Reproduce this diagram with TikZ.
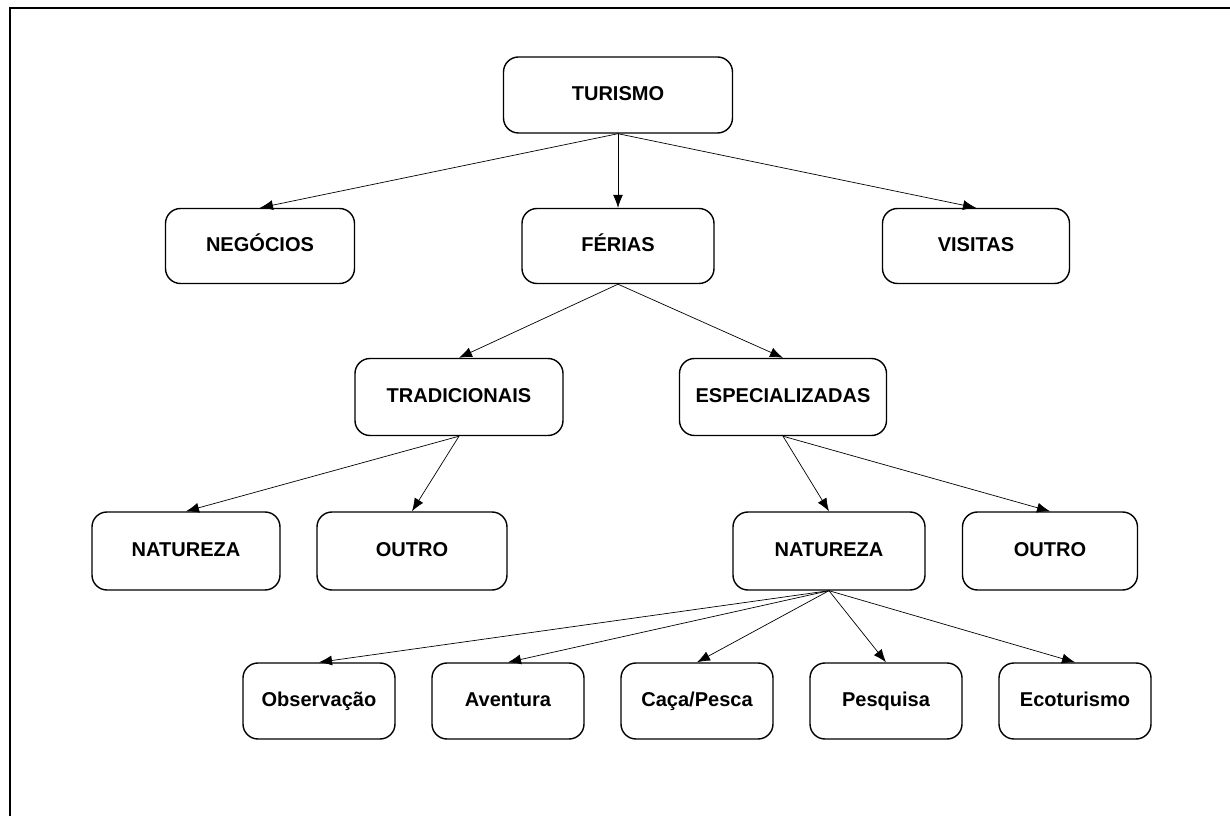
\documentclass[tikz,border=0pt]{standalone}
\usepackage{fontspec}
\setmainfont{Liberation Sans}
\usetikzlibrary{arrows.meta, positioning}
\tikzstyle{box}=[draw,rectangle,rounded corners=.3cm,line width=.8pt,minimum height=1.52cm,text height=1.6ex,text depth=.4ex]
\tikzstyle{leaf}=[box,minimum width=3.04cm]
\tikzstyle{every node}=[font=\fontsize{11.4}{13}\selectfont\bfseries]

\begin{document}
\begin{tikzpicture}[auto,>={Latex[length=2.6mm,width=2mm]}, node distance=3.02cm]
    \useasboundingbox (-12.36,-14.42) rectangle (12.24,1.9);
    \draw[line width=1pt] (-12.16,-14.42) -- (-12.16,1.74) -- (12.24,1.74);
    \node[box, minimum width=4.58cm] (turismo) {TURISMO};
    \node[box, below of=turismo, minimum width=3.84cm, minimum height=1.5cm] (ferias) {FÉRIAS};
    \node[box, left of=ferias, node distance=7.16cm, minimum width=3.78cm, minimum height=1.5cm] (negocios) {NEGÓCIOS};
    \node[box, right of=ferias, node distance=7.16cm, minimum width=3.74cm, minimum height=1.5cm] (visitas) {VISITAS};
    \node[box, below of=ferias, xshift=-3.18cm, minimum width=4.16cm, minimum height=1.54cm] (tradicionais) {TRADICIONAIS};
    \node[box, below of=ferias, xshift=3.3cm, minimum width=4.14cm, minimum height=1.54cm] (especializadas) {ESPECIALIZADAS};
    \node[box, below of=tradicionais, node distance=3.08cm, xshift=-5.46cm, minimum width=3.76cm, minimum height=1.56cm] (natureza1) {NATUREZA};
    \node[box, below of=tradicionais, node distance=3.08cm, xshift=-.94cm, minimum width=3.8cm, minimum height=1.56cm] (outro1) {OUTRO};
    \node[box, below of=especializadas, node distance=3.08cm, xshift=.92cm, minimum width=3.84cm, minimum height=1.56cm] (natureza2) {NATUREZA};
    \node[box, below of=especializadas, node distance=3.08cm, xshift=5.34cm, minimum width=3.5cm, minimum height=1.56cm] (outro2) {OUTRO};
    \node[leaf, below of=natureza2, node distance=3cm, xshift=-10.2cm] (observacao) {Observação};
    \node[leaf, right of=observacao, node distance=3.78cm] (aventura) {Aventura};
    \node[leaf, right of=aventura, node distance=3.78cm] (cacapesca) {Caça/Pesca};
    \node[leaf, right of=cacapesca, node distance=3.78cm] (pesquisa) {Pesquisa};
    \node[leaf, right of=pesquisa, node distance=3.78cm] (ecoturismo) {Ecoturismo};
    \draw[->] (turismo.south) -- (negocios.north);
    \draw[->] (turismo.south) -- (ferias.north);
    \draw[->] (turismo.south) -- (visitas.north);
    \draw[->] (ferias.south) -- (tradicionais.north);
    \draw[->] (ferias.south) -- (especializadas.north);
    \draw[->] (tradicionais.south) -- (natureza1.north);
    \draw[->] (tradicionais.south) -- (outro1.north);
    \draw[->] (especializadas.south) -- (natureza2.north);
    \draw[->] (especializadas.south) -- (outro2.north);
    \draw[->] (natureza2.south) -- (observacao.north);
    \draw[->] (natureza2.south) -- (aventura.north);
    \draw[->] (natureza2.south) -- (cacapesca.north);
    \draw[->] (natureza2.south) -- (pesquisa.north);
    \draw[->] (natureza2.south) -- (ecoturismo.north);
  \end{tikzpicture}
\end{document}
